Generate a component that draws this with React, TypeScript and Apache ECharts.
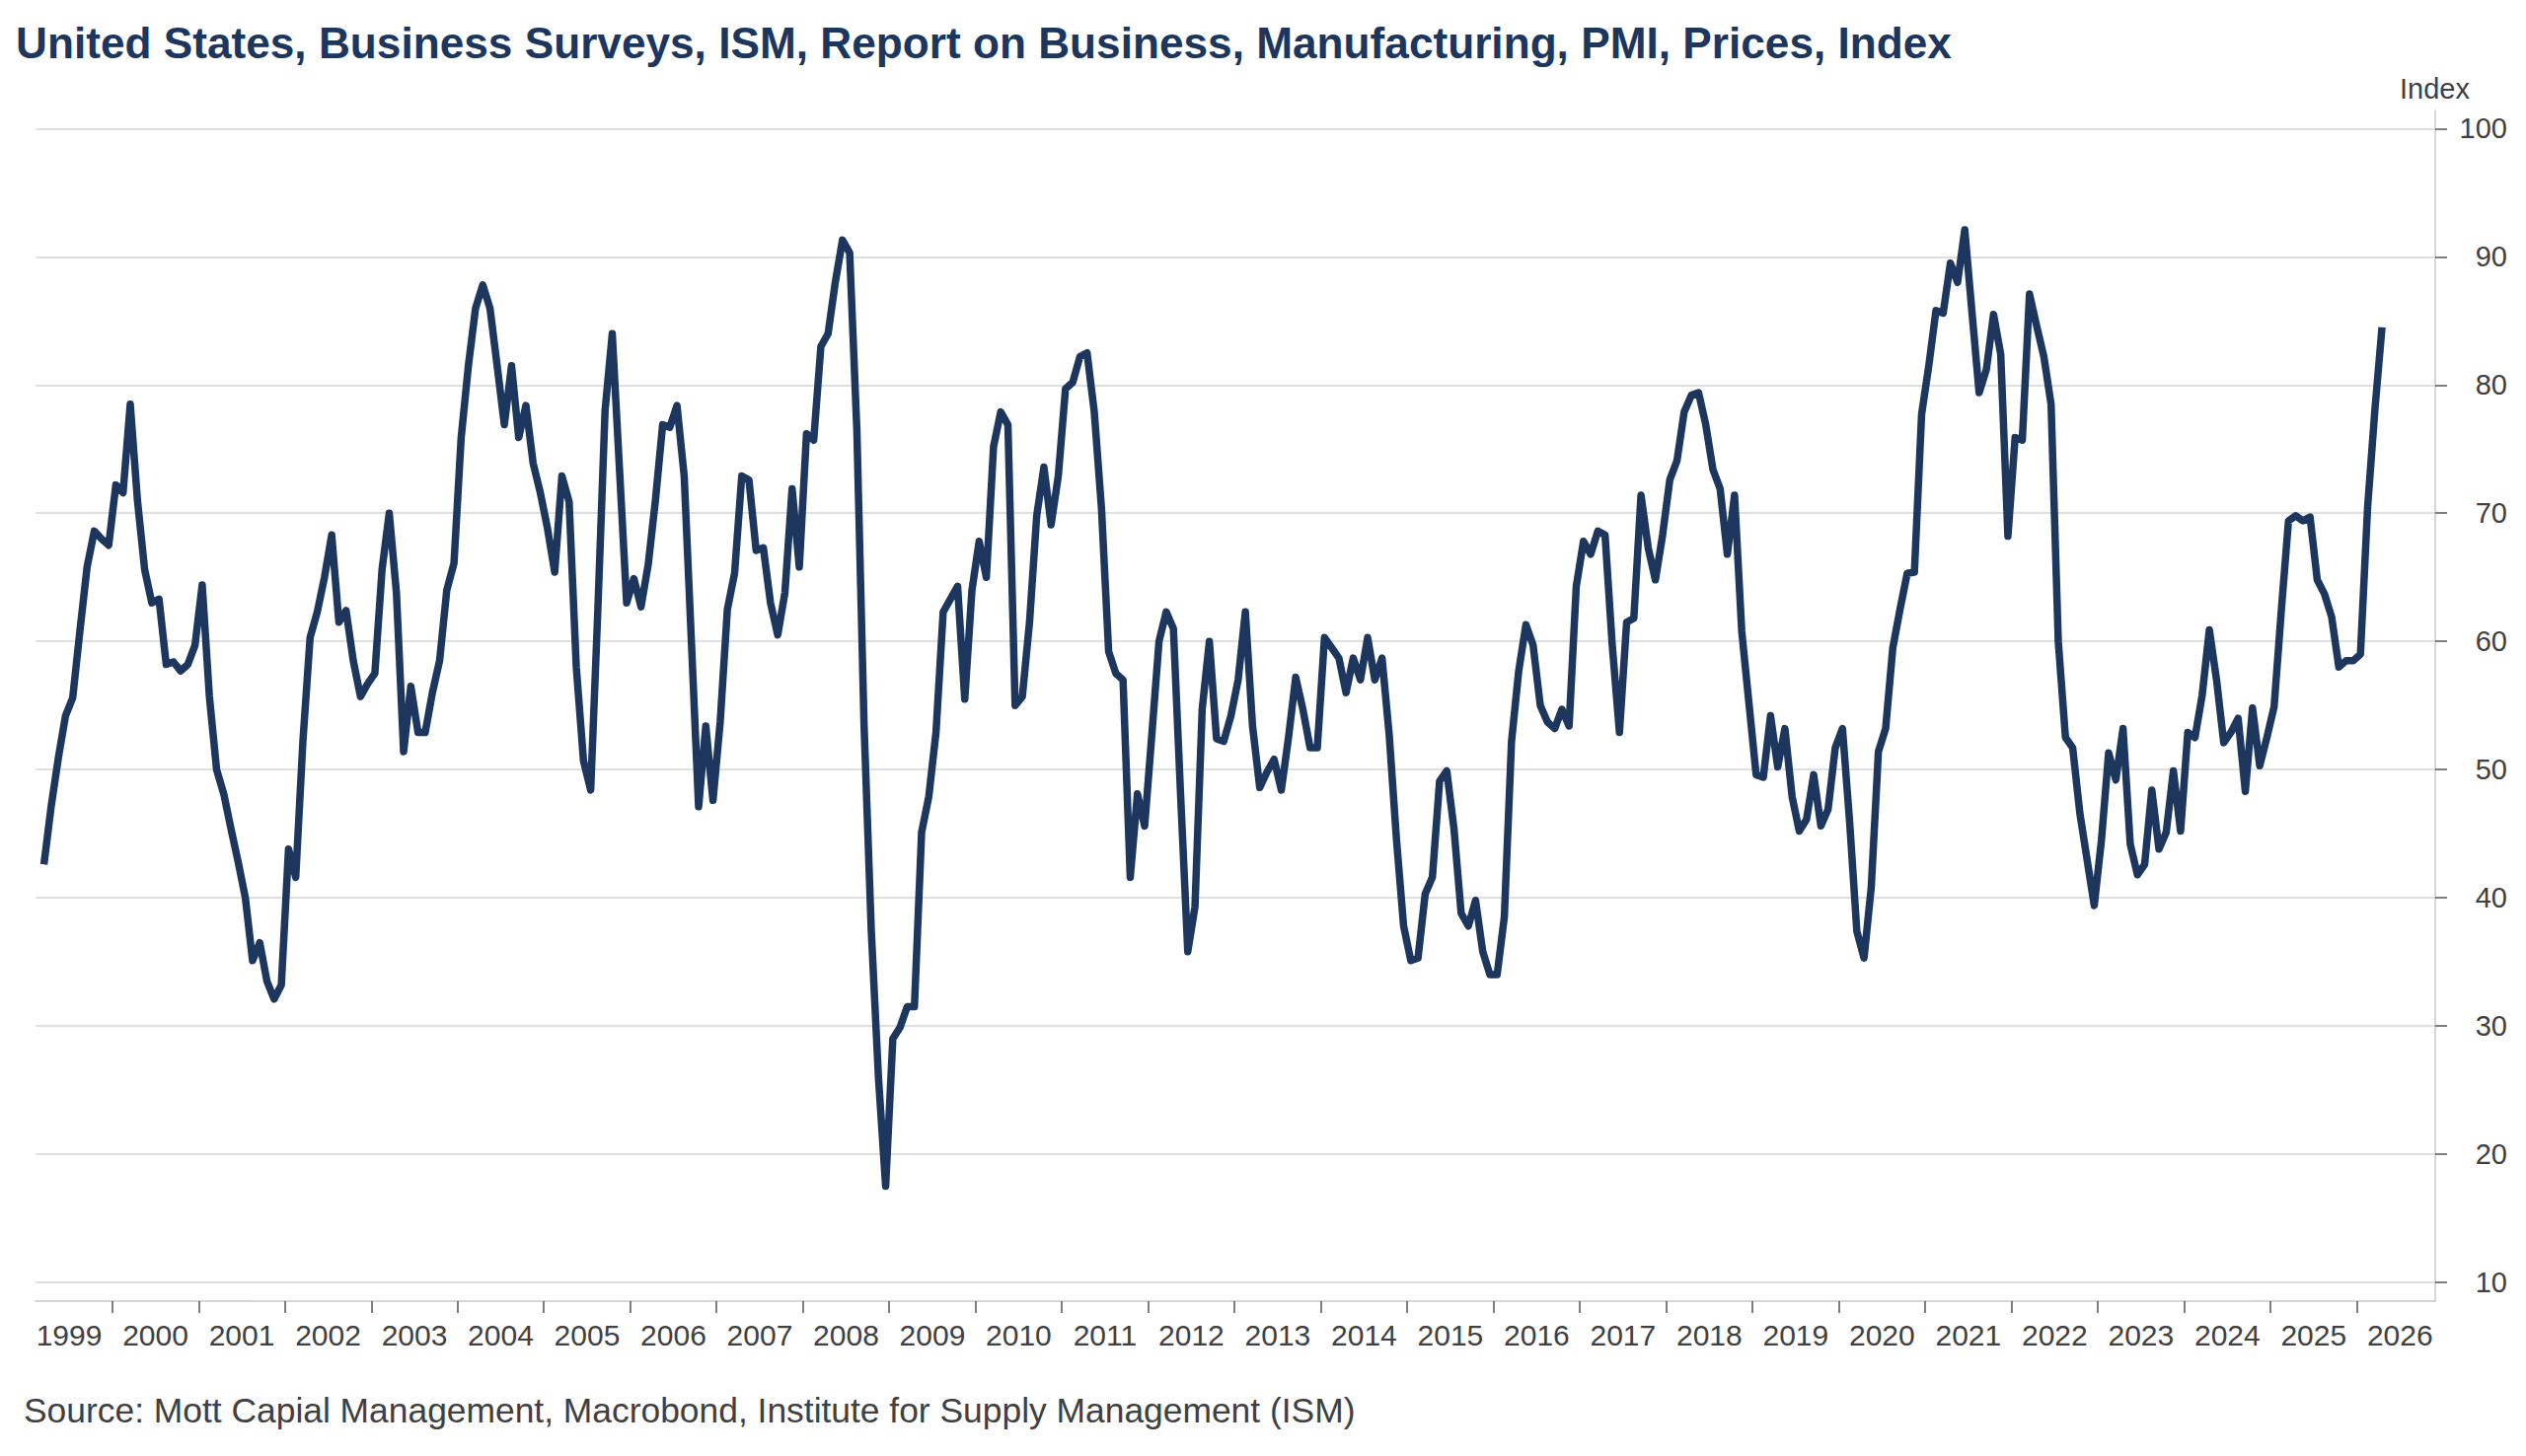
import React, { useEffect, useRef } from "react";
import * as echarts from "echarts";

// ---- Data: ISM Manufacturing PMI, Prices Index (monthly, from March 1999) ----
const START_YEAR = 1999;
const START_MONTH = 3; // March

const v1999 = [42.6, 47.1, 50.9, 54.2, 55.6, 60.8, 65.8, 68.6, 68.0, 67.5];
const v2000 = [72.2, 71.6, 78.5, 71.0, 65.6, 63.0, 63.3, 58.2, 58.4, 57.7, 58.2, 59.7];
const v2001 = [64.4, 55.7, 50.0, 48.1, 45.4, 42.8, 40.0, 35.1, 36.5, 33.5, 32.1, 33.2];
const v2002 = [43.8, 41.6, 52.2, 60.3, 62.3, 65.0, 68.3, 61.5, 62.4, 58.5, 55.7, 56.7];
const v2003 = [57.5, 65.6, 70.0, 63.8, 51.4, 56.5, 52.9, 52.9, 56.0, 58.5, 64.0, 66.1];
const v2004 = [75.9, 81.5, 86.0, 87.8, 86.0, 81.5, 76.9, 81.5, 75.9, 78.4, 73.9, 71.6];
const v2005 = [68.8, 65.4, 72.9, 70.9, 58.0, 50.7, 48.4, 62.5, 78.0, 84.0, 73.5, 63.0];
const v2006 = [64.9, 62.7, 66.0, 71.0, 76.9, 76.7, 78.4, 72.9, 60.0, 47.1, 53.4, 47.6];
const v2007 = [53.7, 62.5, 65.3, 72.9, 72.6, 67.1, 67.3, 63.0, 60.5, 63.8, 71.9, 65.8];
const v2008 = [76.2, 75.7, 83.0, 84.0, 88.0, 91.3, 90.3, 76.5, 53.5, 37.5, 26.0, 17.5];
const v2009 = [29.0, 29.9, 31.5, 31.5, 45.1, 47.9, 52.9, 62.3, 63.3, 64.3, 55.5, 64.0];
const v2010 = [67.8, 65.0, 75.2, 77.9, 76.9, 55.0, 55.7, 61.5, 69.8, 73.6, 69.1, 72.9];
const v2011 = [79.7, 80.2, 82.2, 82.5, 77.9, 70.4, 59.2, 57.5, 57.0, 41.6, 48.1, 45.6];
const v2012 = [52.7, 60.0, 62.3, 61.0, 48.0, 35.8, 39.3, 54.7, 60.0, 52.4, 52.2, 54.2];
const v2013 = [57.0, 62.3, 53.4, 48.6, 49.8, 50.8, 48.4, 52.5, 57.2, 54.7, 51.7, 51.7];
const v2014 = [60.3, 59.5, 58.7, 56.0, 58.7, 57.0, 60.3, 57.0, 58.7, 52.7, 44.6, 37.8];
const v2015 = [35.1, 35.3, 40.3, 41.6, 49.1, 49.9, 45.4, 38.8, 37.8, 39.8, 35.8, 34.0];
const v2016 = [34.0, 38.5, 52.2, 57.7, 61.3, 59.7, 55.0, 53.7, 53.2, 54.7, 53.4, 64.3];
const v2017 = [67.8, 66.8, 68.6, 68.3, 59.7, 52.9, 61.5, 61.8, 71.4, 67.3, 64.8, 68.3];
const v2018 = [72.6, 74.1, 77.9, 79.2, 79.4, 76.9, 73.4, 71.9, 66.8, 71.4, 60.8, 55.2];
const v2019 = [49.6, 49.4, 54.2, 50.2, 53.2, 47.9, 45.2, 46.1, 49.6, 45.6, 46.9, 51.7];
const v2020 = [53.2, 45.9, 37.4, 35.3, 40.8, 51.4, 53.2, 59.5, 62.5, 65.3, 65.4, 77.7];
const v2021 = [81.5, 85.8, 85.6, 89.5, 88.0, 92.1, 85.7, 79.4, 81.2, 85.5, 82.4, 68.2];
const v2022 = [75.9, 75.7, 87.1, 84.6, 82.2, 78.5, 60.0, 52.5, 51.7, 46.6, 43.0, 39.4];
const v2023 = [44.5, 51.3, 49.2, 53.2, 44.2, 41.8, 42.6, 48.4, 43.8, 45.1, 49.9, 45.2];
const v2024 = [52.9, 52.5, 55.8, 60.9, 57.0, 52.1, 52.9, 54.0, 48.3, 54.8, 50.3, 52.5];
const v2025 = [54.9, 62.4, 69.4, 69.8, 69.4, 69.7, 64.8, 63.7, 61.9, 58.0, 58.5, 58.5];
const v2026 = [59.0, 70.5, 78.0, 84.5];

const PRICES: number[] = [
  ...v1999, ...v2000, ...v2001, ...v2002, ...v2003, ...v2004, ...v2005,
  ...v2006, ...v2007, ...v2008, ...v2009, ...v2010, ...v2011, ...v2012,
  ...v2013, ...v2014, ...v2015, ...v2016, ...v2017, ...v2018, ...v2019,
  ...v2020, ...v2021, ...v2022, ...v2023, ...v2024, ...v2025, ...v2026,
];

// Axis tick labels
const YEAR_LABELS: number[] = [];
for (let y = 1999; y <= 2026; y++) YEAR_LABELS.push(y);
const YEAR_TICKS = YEAR_LABELS.slice(1); // year boundaries 2000..2026
const Y_TICKS = [10, 20, 30, 40, 50, 60, 70, 80, 90, 100];

const TITLE =
  "United States, Business Surveys, ISM, Report on Business, Manufacturing, PMI, Prices, Index";
const SOURCE =
  "Source: Mott Capial Management, Macrobond, Institute for Supply Management (ISM)";

const NAVY = "#1c365e";
const TEXT = "#404040";
const FONT = "'Liberation Sans', Arial, sans-serif";

export default function App() {
  const ref = useRef<HTMLDivElement>(null);

  useEffect(() => {
    if (!ref.current) return;
    const chart = echarts.init(ref.current, null, { renderer: "svg" });

    // month index -> decimal year at mid-month
    const data = PRICES.map((v, i) => [
      START_YEAR + (START_MONTH - 1 + i + 0.5) / 12,
      v,
    ]);

    chart.setOption({
      animation: false,
      backgroundColor: "#ffffff",
      grid: {
        left: 36,
        right: 92,
        top: 112,
        bottom: 157,
        containLabel: false,
        outerBoundsMode: "none",
      },
      xAxis: {
        type: "value",
        min: 1999.111,
        max: 2026.908,
        axisLine: { show: true, onZero: false, lineStyle: { color: "#c8c8c8", width: 1.5 } },
        axisTick: {
          show: true,
          length: 12,
          customValues: YEAR_TICKS,
          lineStyle: { color: "#555555", width: 1.5 },
        },
        axisLabel: {
          show: true,
          customValues: YEAR_LABELS.map((y) => y + 0.5),
          formatter: (v: number) => String(Math.floor(v)),
          fontSize: 30,
          fontFamily: FONT,
          color: TEXT,
          margin: 34,
          verticalAlign: "middle",
        },
        splitLine: { show: false },
      },
      yAxis: {
        type: "value",
        position: "right",
        min: 8.54,
        max: 101.41,
        axisLine: { show: true, lineStyle: { color: "#c8c8c8", width: 1.5 } },
        axisTick: {
          show: true,
          length: 12,
          customValues: Y_TICKS,
          lineStyle: { color: "#555555", width: 1.5 },
        },
        axisLabel: {
          show: true,
          customValues: Y_TICKS,
          fontSize: 29,
          fontFamily: FONT,
          color: TEXT,
          align: "right",
          margin: 73,
        },
        splitLine: { show: true, lineStyle: { color: "#d6d6d6", width: 1.5 } },
      },
      series: [
        {
          type: "line",
          data,
          showSymbol: false,
          symbol: "none",
          silent: true,
          lineStyle: { color: NAVY, width: 7.5, join: "round" },
        },
      ],
      graphic: [
        {
          type: "text",
          x: 16,
          y: 43,
          style: {
            text: TITLE,
            font: `bold 44.2px ${FONT}`,
            fill: NAVY,
            align: "left",
            verticalAlign: "middle",
          },
        },
        {
          type: "text",
          x: 2503,
          y: 90,
          style: {
            text: "Index",
            font: `29px ${FONT}`,
            fill: TEXT,
            align: "right",
            verticalAlign: "middle",
          },
        },
        {
          type: "text",
          x: 24,
          y: 1430,
          style: {
            text: SOURCE,
            font: `35.4px ${FONT}`,
            fill: TEXT,
            align: "left",
            verticalAlign: "middle",
          },
        },
      ],
    });

    return () => chart.dispose();
  }, []);

  return (
    <div
      ref={ref}
      style={{
        position: "fixed",
        left: 0,
        top: 0,
        width: "2560px",
        height: "1476px",
        background: "#ffffff",
      }}
    />
  );
}
